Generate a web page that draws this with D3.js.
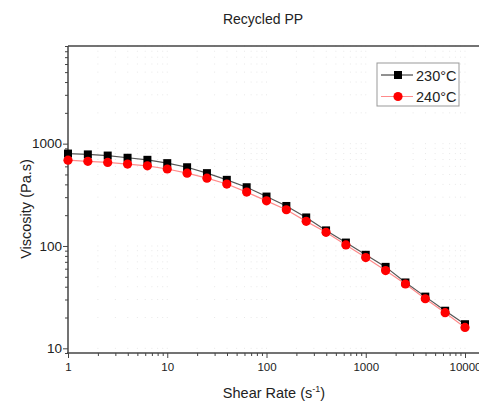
<!DOCTYPE html>
<html>
<head>
<meta charset="utf-8">
<script src="https://cdn.jsdelivr.net/npm/d3@7"></script>
<style>
  body { margin: 0; background: #fff; }
  svg { display: block; font-family: "Liberation Sans", Arial, sans-serif; }
</style>
</head>
<body>
<div id="chart"></div>
<script>
// shear rate, 5 points per decade
let shearRate = [1, 1.585, 2.512, 3.981, 6.31, 10, 15.85, 25.12, 39.81, 63.1, 100,
    158.5, 251.2, 398.1, 631, 1000, 1585, 2512, 3981, 6310, 10000];
let visc230 = [800, 785, 765, 728, 695, 645, 588, 515, 443, 375, 304,
    246, 190, 142, 108, 82, 62.5, 44, 32, 23.3, 17.2];
let visc240 = [690, 672, 655, 632, 607, 565, 515, 460, 403, 336, 276,
    226, 174, 136, 102.5, 77, 57.5, 42.5, 30.5, 22.3, 16.0];
let seriesNames = ["230°C", "240°C"];
let xMajor = [1, 10, 100, 1000, 10000];
let yMajor = [10, 100, 1000];

let width = 479, height = 406;

let svg = d3.select("#chart")
    .append("svg")
    .attr("width", width)
    .attr("height", height);

// scales
let x = d3.scaleLog().domain([1, 10000]).range([68, 465]);
let y = d3.scaleLog().domain([9, 9000]).range([353, 46]);

// minor ticks (2..9 in each decade)
let xMinor = [], yMinor = [];
[1, 10, 100, 1000, 10000].forEach(d => {
    for (let k = 2; k <= 9; k++) xMinor.push(d * k);
});
[1, 10, 100, 1000].forEach(d => {
    for (let k = 1; k <= 9; k++) {
        let v = d * k;
        if (v >= 9 && v <= 9000 && yMajor.indexOf(v) < 0) yMinor.push(v);
    }
});

// faint dotted grid (dots at tick crossings)
let gx = xMajor.concat(xMinor).filter(v => x(v) < width);
let gy = yMajor.concat(yMinor);
let grid = svg.append("g").attr("class", "grid");
gx.forEach(a => {
    gy.forEach(b => {
        grid.append("rect")
            .attr("x", x(a) - 0.5).attr("y", y(b) - 0.5)
            .attr("width", 1).attr("height", 1)
            .attr("fill", "#e8e8e8");
    });
});

// frame (top + right run off the picture)
svg.append("line")
    .attr("x1", x(1)).attr("x2", width + 10)
    .attr("y1", y(9000)).attr("y2", y(9000))
    .attr("stroke", "#444").attr("stroke-width", 1.5);

// x axis
let xAxis = svg.append("g").attr("transform", "translate(0," + y(9) + ")");
xAxis.call(d3.axisBottom(x).tickValues(xMajor).tickFormat(d3.format("d")).tickSize(5).tickPadding(5));
xAxis.append("g").call(d3.axisBottom(x).tickValues(xMinor.filter(v => x(v) < width)).tickFormat("").tickSize(3));
xAxis.selectAll(".domain").remove();
xAxis.append("line").attr("x1", x(1) - 1).attr("x2", width + 10)
    .attr("stroke", "#444").attr("stroke-width", 1.5);
xAxis.selectAll("text").attr("font-size", "11.5px").attr("fill", "#222");

// y axis
let yAxis = svg.append("g").attr("transform", "translate(" + x(1) + ",0)");
yAxis.call(d3.axisLeft(y).tickValues(yMajor).tickFormat(d3.format("d")).tickSize(5).tickPadding(1));
yAxis.append("g").call(d3.axisLeft(y).tickValues(yMinor).tickFormat("").tickSize(3));
yAxis.selectAll(".domain").remove();
yAxis.append("line").attr("y1", y(9000)).attr("y2", y(9) + 1)
    .attr("stroke", "#444").attr("stroke-width", 1.5);
yAxis.selectAll("text").attr("font-size", "13.5px").attr("fill", "#222");
svg.selectAll(".tick line").attr("stroke", "#444");

// series
let line = d3.line().x(d => x(d[0])).y(d => y(d[1]));
let d230 = shearRate.map((s, i) => [s, visc230[i]]);
let d240 = shearRate.map((s, i) => [s, visc240[i]]);

svg.append("path").datum(d230)
    .attr("d", line).attr("fill", "none")
    .attr("stroke", "#555").attr("stroke-width", 1.2);
svg.append("g").selectAll("rect")
    .data(d230).join("rect")
    .attr("x", d => x(d[0]) - 4).attr("y", d => y(d[1]) - 4)
    .attr("width", 8).attr("height", 8)
    .attr("fill", "#000");

svg.append("path").datum(d240)
    .attr("d", line).attr("fill", "none")
    .attr("stroke", "#ff8a8a").attr("stroke-width", 1.2);
svg.append("g").selectAll("circle")
    .data(d240).join("circle")
    .attr("cx", d => x(d[0])).attr("cy", d => y(d[1]))
    .attr("r", 4.6)
    .attr("fill", "#ff0000");

// legend
let legend = svg.append("g").attr("transform", "translate(377,63)");
legend.append("rect").attr("width", 82).attr("height", 43)
    .attr("fill", "#fff").attr("stroke", "#999").attr("stroke-width", 1);
// row 1
legend.append("line").attr("x1", 4).attr("x2", 36).attr("y1", 12).attr("y2", 12)
    .attr("stroke", "#222").attr("stroke-width", 1);
legend.append("rect").attr("x", 17).attr("y", 8).attr("width", 8).attr("height", 8).attr("fill", "#000");
legend.append("text").attr("x", 39).attr("y", 17.5).attr("font-size", "14.5px").attr("fill", "#222").text(seriesNames[0]);
// row 2
legend.append("line").attr("x1", 4).attr("x2", 36).attr("y1", 33.5).attr("y2", 33.5)
    .attr("stroke", "#ff8a8a").attr("stroke-width", 1);
legend.append("circle").attr("cx", 21).attr("cy", 33.5).attr("r", 4.6).attr("fill", "#ff0000");
legend.append("text").attr("x", 39).attr("y", 39).attr("font-size", "14.5px").attr("fill", "#222").text(seriesNames[1]);

// title + axis titles
svg.append("text").attr("x", 263).attr("y", 24).attr("text-anchor", "middle")
    .attr("font-size", "14px").attr("fill", "#222").text("Recycled PP");

let xt = svg.append("text").attr("x", 274).attr("y", 398).attr("text-anchor", "middle")
    .attr("font-size", "14.5px").attr("fill", "#222");
xt.append("tspan").text("Shear Rate (s");
xt.append("tspan").attr("dy", -6).attr("font-size", "9px").text("-1");
xt.append("tspan").attr("dy", 6).text(")");

svg.append("text").attr("transform", "translate(31,209) rotate(-90)")
    .attr("text-anchor", "middle").attr("font-size", "14.5px").attr("fill", "#222")
    .text("Viscosity (Pa.s)");
</script>
</body>
</html>
